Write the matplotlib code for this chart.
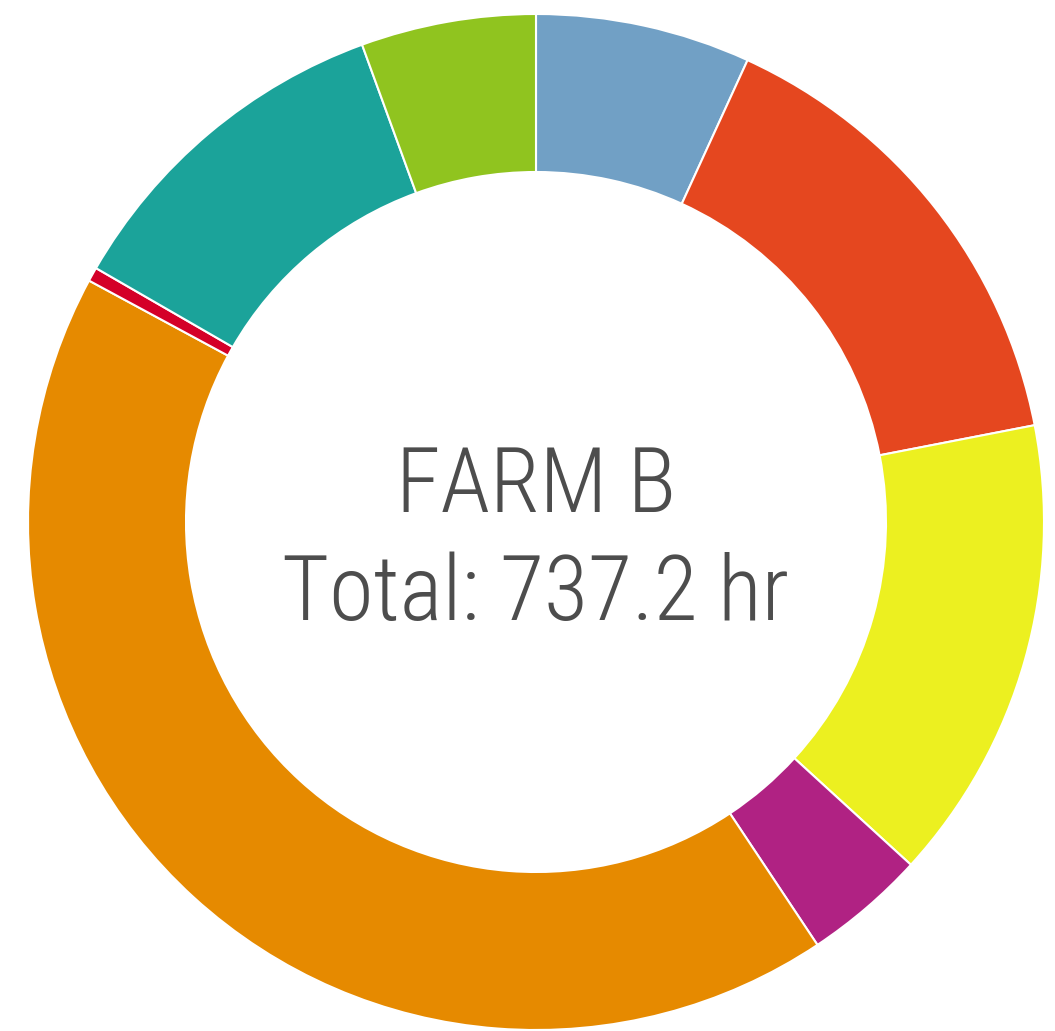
import matplotlib
matplotlib.use("Agg")
import matplotlib.pyplot as plt
from matplotlib import font_manager
from matplotlib.font_manager import FontProperties

categories = ["Blue", "Red-orange", "Yellow", "Purple", "Orange", "Red", "Teal", "Green"]
hours = [50.4, 111.4, 109.4, 28.5, 311.3, 3.3, 81.9, 41.0]
colors = ["#71a0c5", "#e5471f", "#ecf020", "#b02283", "#e68a00", "#d40028", "#1ba39a", "#90c41f"]
title = "FARM B"
total_label = "Total: 737.2 hr"


def find_font():
    prefs = [("Roboto Condensed", 300), ("Barlow Semi Condensed", 300),
             ("Asap Condensed", 300), ("Roboto Condensed", 400),
             ("Archivo Narrow", 400), ("DejaVu Sans", 400)]
    fl = font_manager.fontManager.ttflist
    for name, wt in prefs:
        for f in fl:
            if f.name == name and f.style == "normal" and f.weight == wt and \
                    (name != "DejaVu Sans" or f.stretch == "condensed"):
                return FontProperties(fname=f.fname)
    return FontProperties(family="DejaVu Sans")


fp = find_font()

W, H = 1055, 1031
cx, cy = 536, 522
R, w = 508, 158

fig = plt.figure(figsize=(W / 100, H / 100), dpi=100)
ax = fig.add_axes([0, 0, 1, 1])
ax.pie(hours, colors=colors, startangle=90, counterclock=False, radius=R,
       wedgeprops=dict(width=w, edgecolor="white", linewidth=1.5))
ax.set_xlim(-cx, W - cx)
ax.set_ylim(-(H - cy), cy)
ax.set_aspect("equal")
ax.axis("off")

t1 = ax.text(0, 10, title, ha="center", va="baseline", fontsize=77, color="#4d4d4d",
             fontproperties=fp)
t2 = ax.text(0, -98, total_label, ha="center", va="baseline", fontsize=77, color="#4d4d4d",
             fontproperties=fp)
fig.canvas.draw()
r = fig.canvas.get_renderer()
wid = t2.get_window_extent(r).width
scale = 508.0 / wid
for t in (t1, t2):
    t.set_fontsize(77 * scale)

fig.savefig("out.png", dpi=100, facecolor="white")
